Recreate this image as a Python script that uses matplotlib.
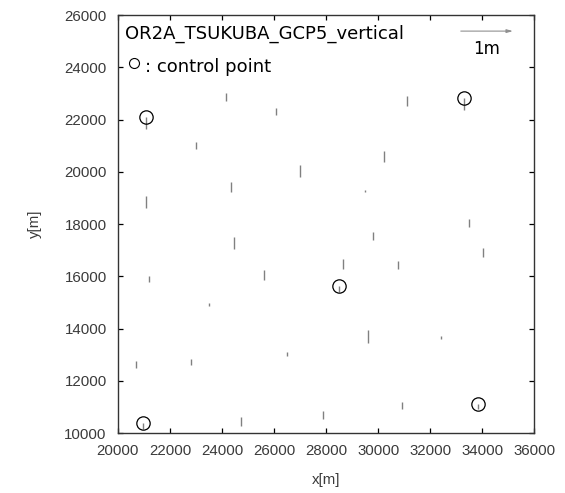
import matplotlib
matplotlib.use("Agg")
import matplotlib.pyplot as plt
import numpy as np

# vector scale: 1 m of residual is drawn as 2000 m on the map
SCALE = 2000.0

# check points: easting, northing [m] and vertical residual [m]
chk_x = [24146, 26088, 22996, 31092, 30238, 27008, 24364, 21080, 24479,
         25602, 21195, 29483, 33483, 29805, 34004, 28640, 30774, 23483,
         26483, 22805, 20686, 24720, 27889, 29598, 32395, 30927]
chk_y = [23031, 22458, 21149, 22905, 20805, 20271, 19622, 19088, 17523,
         16252, 15996, 19305, 18198, 17714, 17076, 16672, 16569, 14977,
         13107, 12828, 12752, 10626, 10844, 13935, 13706, 11176]
chk_dz = [-0.16, -0.14, -0.14, -0.19, -0.21, -0.24, -0.20, -0.235, -0.235,
          -0.19, -0.11, -0.045, -0.16, -0.17, -0.16, -0.19, -0.14, -0.06,
          -0.08, -0.11, -0.13, -0.17, -0.16, -0.25, -0.05, -0.12]

# control points
gcp_x = [21069, 33276, 28475, 20954, 33812]
gcp_y = [22103, 22817, 15641, 10374, 11111]
gcp_dz = [-0.23, -0.23, -0.12, -0.10, -0.09]

title = "OR2A_TSUKUBA_GCP5_vertical"

fig = plt.figure(figsize=(5.65, 4.93), dpi=100)
ax = fig.add_axes([0.2085, 0.1215, 0.7375, 0.848])

seg_color = "#808080"
cx = np.array(chk_x)
cy = np.array(chk_y)
ax.vlines(cx, cy, cy + np.array(chk_dz) * SCALE, color=seg_color, lw=1.0)

gx = np.array(gcp_x)
gy = np.array(gcp_y)
ax.vlines(gx, gy, gy + np.array(gcp_dz) * SCALE, color=seg_color, lw=1.0)
ax.plot(gx, gy, "o", ms=9.6, mfc="none", mec="black", mew=0.9)

# scale arrow (1 m)
ax0, ay0 = 33170, 25385
ax.annotate("", xy=(ax0 + 1.0 * SCALE, ay0), xytext=(ax0, ay0),
            arrowprops=dict(arrowstyle="-|>,head_length=0.35,head_width=0.1",
                            color="#909090", lw=0.8, shrinkA=0, shrinkB=0))
ax.text(34145, 24500, "1m", ha="center", va="baseline", fontsize=12,
        family="DejaVu Sans")

ax.text(0.017, 0.944, title, transform=ax.transAxes, fontsize=13,
        family="DejaVu Sans", va="baseline")
ax.plot([0.039], [0.886], "o", ms=7.2, mfc="none", mec="black", mew=0.8,
        transform=ax.transAxes, clip_on=False)
ax.text(0.065, 0.864, ": control point", transform=ax.transAxes,
        fontsize=13, family="DejaVu Sans", va="baseline")

ax.set_xlim(20000, 36000)
ax.set_ylim(10000, 26000)
ax.set_xticks(np.arange(20000, 36001, 2000))
ax.set_yticks(np.arange(10000, 26001, 2000))
ax.tick_params(direction="in", top=True, right=True, length=3.5, width=0.9,
               labelsize=10.8, labelcolor="#3a3a3a", pad=8)
for lab in ax.get_xticklabels() + ax.get_yticklabels():
    lab.set_family("Liberation Sans")
for sp in ax.spines.values():
    sp.set_linewidth(1.0)
    sp.set_color("#333333")

ax.set_xlabel("x[m]", family="Liberation Sans", fontsize=10.8,
              color="#3a3a3a", labelpad=11)
ax.set_ylabel("y[m]", family="Liberation Sans", fontsize=10.8,
              color="#3a3a3a", labelpad=16)

fig.savefig("out.png", dpi=100)
